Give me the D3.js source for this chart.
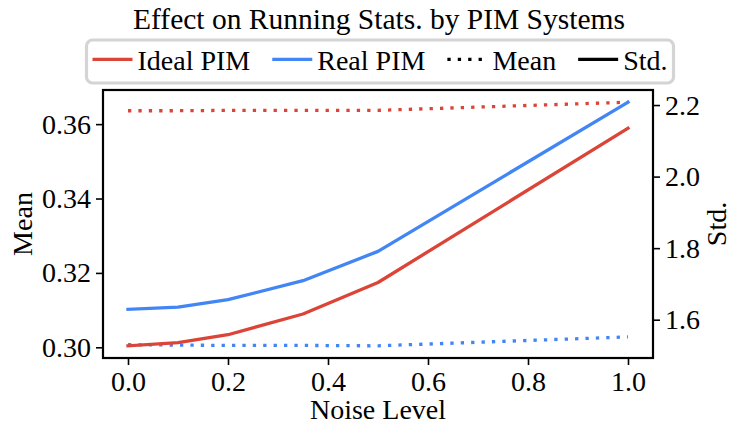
<!DOCTYPE html>
<html><head><meta charset="utf-8">
<script src="https://cdn.jsdelivr.net/npm/d3@7"></script>
<style>
html,body{margin:0;padding:0;background:#fff;}
svg text{font-family:"Liberation Serif","Times New Roman",serif;fill:#000;}
</style></head>
<body><svg id="c" width="732" height="427"></svg>
<script>
const noise = [0, 0.1, 0.2, 0.35, 0.5, 1.0];
const idealMean = [0.3636, 0.3636, 0.3637, 0.3637, 0.3637, 0.3659];
const realMean  = [0.3007, 0.3006, 0.3005, 0.3005, 0.3004, 0.3028];
const idealStd  = [1.527, 1.536, 1.558, 1.616, 1.704, 2.135];
const realStd   = [1.629, 1.635, 1.656, 1.709, 1.791, 2.208];
const xTicks = [0, 0.2, 0.4, 0.6, 0.8, 1.0];
const meanTicks = [0.30, 0.32, 0.34, 0.36];
const stdTicks = [1.6, 1.8, 2.0, 2.2];
const legendLabels = ["Ideal PIM", "Real PIM", "Mean", "Std."];

const RED = "#DB4437", BLUE = "#4285F4";
const FS = 28;
const L = 103, R = 653, T = 90, B = 358;
const svg = d3.select("#c");

function pad(ext){ const r = ext[1]-ext[0]; return [ext[0]-0.05*r, ext[1]+0.05*r]; }
const x = d3.scaleLinear().domain(pad(d3.extent(noise))).range([L, R]);
const yL = d3.scaleLinear().domain(pad(d3.extent(idealMean.concat(realMean)))).range([B, T]);
const yR = d3.scaleLinear().domain(pad(d3.extent(idealStd.concat(realStd)))).range([B, T]);

const DOT = "3.3,7.1", LW = 3.3;
function drawLine(vals, scale, color, dotted){
  const line = d3.line().x((d,i)=>x(noise[i])).y(d=>scale(d));
  svg.append("path").datum(vals).attr("d", line)
    .attr("fill","none").attr("stroke",color).attr("stroke-width",LW)
    .attr("stroke-linecap", dotted ? "butt" : "square")
    .attr("stroke-linejoin","round")
    .attr("stroke-dasharray", dotted ? DOT : null);
}
drawLine(realMean, yL, BLUE, true);
drawLine(idealMean, yL, RED, true);
drawLine(realStd, yR, BLUE, false);
drawLine(idealStd, yR, RED, false);

// axes
const fmt2 = d3.format(".2f"), fmt1 = d3.format(".1f");
const gx = svg.append("g").attr("transform",`translate(0,${B})`)
  .call(d3.axisBottom(x).tickValues(xTicks).tickFormat(fmt1).tickSize(7).tickPadding(6));
const gl = svg.append("g").attr("transform",`translate(${L},0)`)
  .call(d3.axisLeft(yL).tickValues(meanTicks).tickFormat(fmt2).tickSize(7).tickPadding(5));
const gr = svg.append("g").attr("transform",`translate(${R},0)`)
  .call(d3.axisRight(yR).tickValues(stdTicks).tickFormat(fmt1).tickSize(7).tickPadding(5));
[gx,gl,gr].forEach(g=>{
  g.select(".domain").remove();
  g.selectAll(".tick line").attr("stroke","#000").attr("stroke-width",1.6);
  g.selectAll(".tick text").attr("font-size",FS).attr("font-family","Liberation Serif");
});
// frame
svg.append("rect").attr("x",L).attr("y",T).attr("width",R-L).attr("height",B-T)
  .attr("fill","none").attr("stroke","#000").attr("stroke-width",2.2);

// axis labels
svg.append("text").attr("x",378).attr("y",419).attr("text-anchor","middle").attr("font-size",FS).text("Noise Level");
svg.append("text").attr("transform",`translate(32,${(T+B)/2}) rotate(-90)`).attr("text-anchor","middle").attr("font-size",FS).text("Mean");
svg.append("text").attr("transform",`translate(726,${(T+B)/2}) rotate(-90)`).attr("text-anchor","middle").attr("font-size",FS).text("Std.");

// title
svg.append("text").attr("x",379).attr("y",29).attr("text-anchor","middle").attr("font-size",29.5).text("Effect on Running Stats. by PIM Systems");

// legend
const styles = [
  {c:RED, d:null},{c:BLUE,d:null},{c:"#000",d:DOT},{c:"#000",d:null}
];
const lg = svg.append("g");
const box = lg.append("rect").attr("fill","#fff").attr("stroke","#d4d4d4").attr("stroke-width",3.2).attr("rx",6);
const HL = 40, HG = 5, EG = 22, PADX = 6;
let cx = 0;
legendLabels.forEach((lab,i)=>{
  const g = lg.append("g");
  g.append("line").attr("x1",cx).attr("x2",cx+HL).attr("y1",59.3).attr("y2",59.3)
    .attr("stroke",styles[i].c).attr("stroke-width",LW).attr("stroke-dasharray",styles[i].d);
  const t = g.append("text").attr("x",cx+HL+HG).attr("y",70).attr("font-size",FS).text(lab);
  cx += HL + HG + t.node().getComputedTextLength() + EG;
});
const total = cx - EG;
const x0 = 380 - total/2;
lg.selectAll("g").attr("transform",`translate(${x0},0)`);
box.attr("x", x0 - PADX).attr("y",40).attr("width", total + 2*PADX).attr("height",43);
</script></body></html>
